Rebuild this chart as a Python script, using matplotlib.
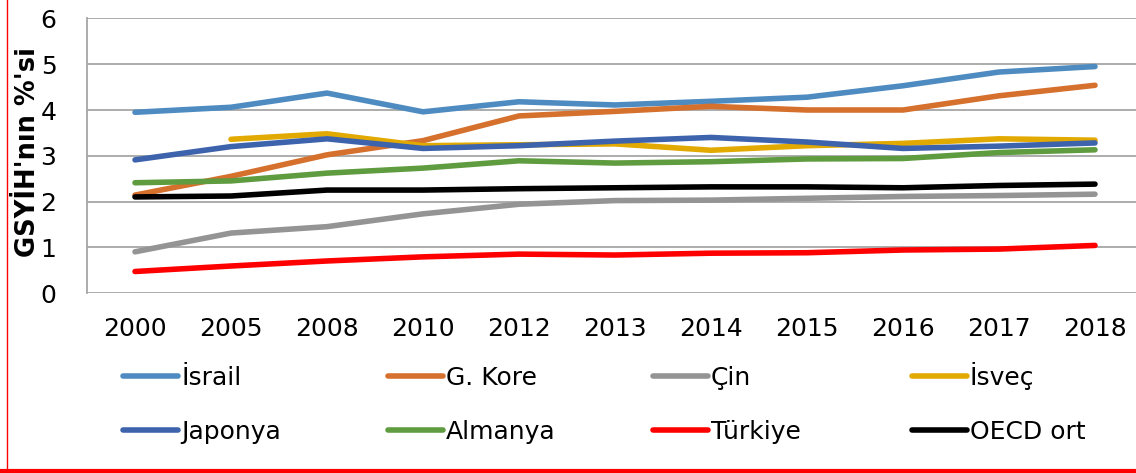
import matplotlib

matplotlib.use("Agg")
import matplotlib.pyplot as plt
from matplotlib.lines import Line2D

YEARS = ["2000", "2005", "2008", "2010", "2012", "2013", "2014", "2015", "2016", "2017", "2018"]

ISRAIL = [3.95, 4.06, 4.37, 3.96, 4.18, 4.11, 4.19, 4.28, 4.53, 4.83, 4.95]
G_KORE = [2.14, 2.55, 3.02, 3.33, 3.87, 3.97, 4.08, 4.00, 4.00, 4.31, 4.54]
CIN = [0.90, 1.31, 1.45, 1.73, 1.94, 2.02, 2.03, 2.07, 2.11, 2.13, 2.16]
ISVEC = [None, 3.36, 3.48, 3.22, 3.24, 3.26, 3.12, 3.22, 3.27, 3.37, 3.34]
JAPONYA = [2.91, 3.20, 3.37, 3.16, 3.22, 3.32, 3.40, 3.30, 3.16, 3.21, 3.28]
ALMANYA = [2.41, 2.45, 2.62, 2.73, 2.89, 2.84, 2.87, 2.93, 2.94, 3.07, 3.13]
TURKIYE = [0.47, 0.59, 0.70, 0.79, 0.85, 0.83, 0.87, 0.88, 0.94, 0.96, 1.04]
OECD = [2.10, 2.12, 2.25, 2.25, 2.28, 2.30, 2.32, 2.32, 2.30, 2.35, 2.38]

SERIES = [
    ("İsrail", ISRAIL, "#4E8BC1"),
    ("G. Kore", G_KORE, "#D5702D"),
    ("Çin", CIN, "#949494"),
    ("İsveç", ISVEC, "#E2A900"),
    ("Japonya", JAPONYA, "#3D63AD"),
    ("Almanya", ALMANYA, "#5F9B3F"),
    ("Türkiye", TURKIYE, "#FF0000"),
    ("OECD ort", OECD, "#000000"),
]

W, H = 1136, 473
fig = plt.figure(figsize=(W / 100, H / 100), dpi=100)
ax = fig.add_axes([87 / W, 180 / H, 1056 / W, 274.5 / H])

x = list(range(len(YEARS)))
for name, vals, color in SERIES:
    xs = [xi for xi, v in zip(x, vals) if v is not None]
    ys = [v for v in vals if v is not None]
    ax.plot(xs, ys, color=color, lw=4, solid_capstyle="round",
            solid_joinstyle="round", label=name)

ax.set_xlim(-0.5, 10.5)
ax.set_ylim(0, 6)
ax.set_yticks(range(7))
ax.set_xticks(x)
ax.set_xticklabels(YEARS)
ax.tick_params(axis="both", length=0, labelsize=18)
ax.tick_params(axis="y", pad=22)
ax.tick_params(axis="x", pad=17)
ax.yaxis.grid(True, color="#A6A6A6", lw=1.3)
ax.set_axisbelow(True)
for side in ["top", "right", "bottom"]:
    ax.spines[side].set_visible(False)
ax.spines["left"].set_color("#A6A6A6")
ax.spines["left"].set_linewidth(1.3)

fig.text(28 / W, 1 - 152 / H, "GSYİH'nın %'si", rotation=90, ha="center", va="center",
         fontsize=18.5, fontweight="bold")

# legend laid out by hand: 4 columns x 2 rows, shared baselines
col_x = [123, 388, 653, 912]
row_y = [376, 430]
for i, (name, vals, color) in enumerate(SERIES):
    cx, cy = col_x[i % 4], row_y[i // 4]
    fig.add_artist(Line2D([cx / W, (cx + 55) / W], [1 - cy / H] * 2, color=color,
                          lw=4, solid_capstyle="round"))
    fig.text((cx + 58) / W, 1 - (cy + 9) / H, name, fontsize=18, ha="left", va="baseline")

fig.add_artist(Line2D([7 / W, 7 / W], [0, 1], color="red", lw=1))
fig.add_artist(Line2D([0, 1], [2 / H, 2 / H], color="red", lw=3))

fig.savefig("out.png", dpi=100)
